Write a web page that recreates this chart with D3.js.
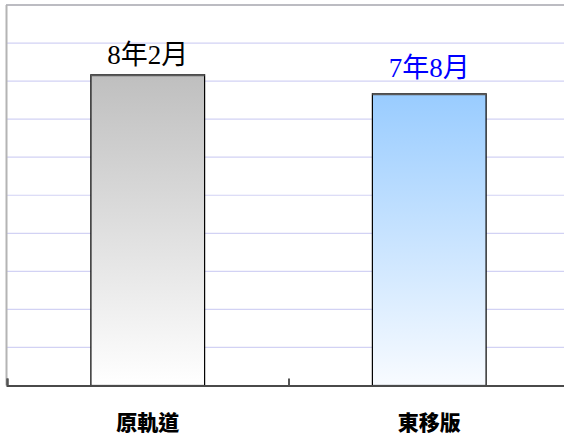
<!DOCTYPE html>
<html>
<head>
<meta charset="utf-8">
<script src="https://cdn.jsdelivr.net/npm/d3@7/dist/d3.min.js"></script>
<style>
  html, body { margin: 0; padding: 0; background: #fff; overflow: hidden; }
  svg { display: block; }
</style>
</head>
<body>
<script>
// ---- data ----
const categories = ["原軌道", "東移版"];
const months = [98, 92];                 // 8年2月, 7年8月 expressed in months
const valueLabels = ["8年2月", "7年8月"];
const gridMonths = [12, 24, 36, 48, 60, 72, 84, 96, 108];
const yMax = 120;

// ---- styles ----
const topColors = ["#bfbfbf", "#99ccff"];
const bottomColors = ["#ffffff", "#f8fbff"];
const labelColors = ["#000000", "#0000ff"];
const labelGap = [11, 17];

(function () {
const W = 564, H = 436;
const svg = d3.select("body").append("svg").attr("width", W).attr("height", H);

const pLeft = 7, pRight = 570, pTop = 5, pBottom = 385.5;
const x = d3.scaleBand().domain(categories).range([pLeft, pRight]).padding(0);
const xb = d3.scaleLinear().domain([0, categories.length]).range([pLeft, pRight]);
const y = d3.scaleLinear().domain([0, yMax]).range([pBottom, pTop]);

// gradients
const defs = svg.append("defs");
categories.forEach((c, i) => {
  const g = defs.append("linearGradient").attr("id", "g" + i)
    .attr("x1", 0).attr("y1", 0).attr("x2", 0).attr("y2", 1);
  g.append("stop").attr("offset", "0%").attr("stop-color", topColors[i]);
  g.append("stop").attr("offset", "100%").attr("stop-color", bottomColors[i]);
});

// gridlines
svg.append("g").selectAll("line").data(gridMonths).join("line")
  .attr("x1", pLeft).attr("x2", W)
  .attr("y1", d => y(d)).attr("y2", d => y(d))
  .attr("stroke", "#d2d2f4").attr("stroke-width", 1.2);

// top border
svg.append("line").attr("x1", pLeft - 1).attr("x2", W)
  .attr("y1", y(yMax)).attr("y2", y(yMax))
  .attr("stroke", "#a6a6ae").attr("stroke-width", 1.5);

// left border
svg.append("line").attr("x1", pLeft - 0.5).attr("x2", pLeft - 0.5)
  .attr("y1", y(yMax)).attr("y2", pBottom)
  .attr("stroke", "#b4b4b4").attr("stroke-width", 2);

// bars
const barFrac = 0.404;
const bw = x.bandwidth() * barFrac;
const bars = svg.append("g");
bars.selectAll("rect").data(categories).join("rect")
  .attr("x", c => x(c) + (x.bandwidth() - bw) / 2)
  .attr("y", (c, i) => y(months[i]))
  .attr("width", bw)
  .attr("height", (c, i) => pBottom - y(months[i]))
  .attr("fill", (c, i) => `url(#g${i})`)
  .attr("stroke", "#000").attr("stroke-width", 1.2);
bars.selectAll("line").data(categories).join("line")
  .attr("x1", c => x(c) + (x.bandwidth() - bw) / 2)
  .attr("x2", c => x(c) + (x.bandwidth() + bw) / 2)
  .attr("y1", (c, i) => y(months[i]) + 0.5)
  .attr("y2", (c, i) => y(months[i]) + 0.5)
  .attr("stroke", "#5a5a5a").attr("stroke-width", 2);

// x axis
const axis = svg.append("g").attr("transform", `translate(0,${pBottom})`)
  .call(d3.axisBottom(xb).tickValues(d3.range(categories.length + 1)).tickSize(-7).tickFormat(""));
axis.select(".domain").attr("stroke", "#4a4a4a").attr("stroke-width", 2);
axis.selectAll(".tick line").attr("stroke", "#555").attr("stroke-width", 2);

// value labels
svg.append("g").selectAll("text").data(valueLabels).join("text")
  .attr("x", (d, i) => x(categories[i]) + x.bandwidth() / 2)
  .attr("y", (d, i) => y(months[i]) - labelGap[i])
  .attr("text-anchor", "middle")
  .attr("font-family", "'Liberation Serif', 'Noto Sans CJK TC', serif")
  .attr("font-size", 27)
  .attr("fill", (d, i) => labelColors[i])
  .text(d => d);

// category labels
svg.append("g").selectAll("text").data(categories).join("text")
  .attr("x", c => x(c) + x.bandwidth() / 2)
  .attr("y", 430)
  .attr("text-anchor", "middle")
  .attr("font-family", "'Noto Sans CJK TC', sans-serif")
  .attr("font-weight", "900")
  .attr("font-size", 21)
  .attr("fill", "#000")
  .text(c => c);
})();
</script>
</body>
</html>
